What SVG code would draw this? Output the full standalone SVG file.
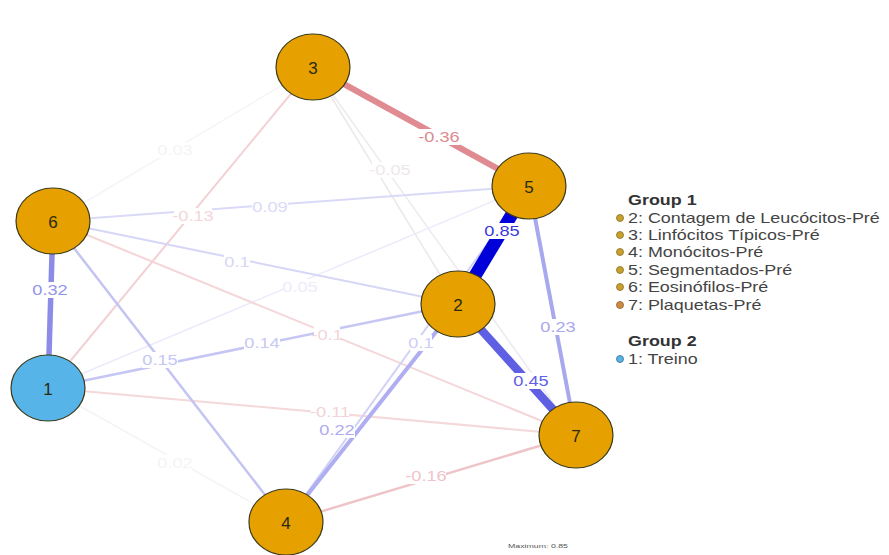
<svg xmlns="http://www.w3.org/2000/svg" width="889" height="555" viewBox="0 0 889 555">
<style>
.e{fill:none;stroke-linecap:butt}
.lb{fill:#fff}
.lt{font-family:"Liberation Sans",Arial,sans-serif;font-size:14px;text-anchor:middle;dominant-baseline:central}
.node ellipse{stroke:#3a3a1a;stroke-width:1.2}
.node text{font-family:"Liberation Sans",Arial,sans-serif;font-size:17px;text-anchor:middle;dominant-baseline:central;fill:#2a2a10}
.lg{font-family:"Liberation Sans",Arial,sans-serif;font-size:14px;fill:#444}
.lgb{font-weight:bold;fill:#333}
</style>
<rect width="889" height="555" fill="#fff"/>
<g id="connectors">
  <line class="e" x1="53" y1="221" x2="313" y2="67" stroke="#f5f5f7" stroke-width="1.5"/>
  <line class="e" x1="48" y1="388" x2="286" y2="522" stroke="#f4f4f7" stroke-width="1.5"/>
  <line class="e" x1="313" y1="67" x2="458" y2="304" stroke="#ece8ea" stroke-width="1.5"/>
  <line class="e" x1="313" y1="67" x2="576" y2="435" stroke="#ebebf0" stroke-width="1.5"/>
  <line class="e" x1="48" y1="388" x2="529" y2="186" stroke="#ebebfb" stroke-width="1.5"/>
  <line class="e" x1="48" y1="388" x2="313" y2="67" stroke="#f2d0d4" stroke-width="2"/>
  <line class="e" x1="48" y1="388" x2="576" y2="435" stroke="#f4d8da" stroke-width="2"/>
  <line class="e" x1="53" y1="221" x2="576" y2="435" stroke="#f4d6d9" stroke-width="2"/>
  <line class="e" x1="53" y1="221" x2="458" y2="304" stroke="#d6d6f7" stroke-width="2"/>
  <line class="e" x1="53" y1="221" x2="529" y2="186" stroke="#dadaf8" stroke-width="2"/>
  <line class="e" x1="286" y1="522" x2="529" y2="186" stroke="#d2d2f6" stroke-width="2"/>
  <line class="e" x1="53" y1="221" x2="286" y2="522" stroke="#c4c4f3" stroke-width="2.5"/>
  <line class="e" x1="48" y1="388" x2="458" y2="304" stroke="#c6c6f4" stroke-width="2.5"/>
  <line class="e" x1="286" y1="522" x2="576" y2="435" stroke="#eec4c8" stroke-width="2.5"/>
  <line class="e" x1="286" y1="522" x2="458" y2="304" stroke="#aeaef0" stroke-width="4"/>
  <line class="e" x1="529" y1="186" x2="576" y2="435" stroke="#a8a8ee" stroke-width="4"/>
  <line class="e" x1="53" y1="221" x2="48" y2="388" stroke="#8c8ce8" stroke-width="5.5"/>
  <line class="e" x1="313" y1="67" x2="529" y2="186" stroke="#e08a92" stroke-width="6"/>
  <line class="e" x1="458" y1="304" x2="576" y2="435" stroke="#5f5fe4" stroke-width="8.5"/>
  <line class="e" x1="529" y1="186" x2="458" y2="304" stroke="#0000d8" stroke-width="13"/>
  <g>
    <rect class="lb" x="158" y="142" width="34" height="16"/><text class="lt" transform="translate(175,150) scale(1.3,1)" fill="#f4f4f6">0.03</text>
    <rect class="lb" x="158" y="455" width="34" height="16"/><text class="lt" transform="translate(175,463) scale(1.3,1)" fill="#f4f4f6">0.02</text>
    <rect class="lb" x="372" y="162" width="36" height="16"/><text class="lt" transform="translate(390,170) scale(1.3,1)" fill="#eee8ea">-0.05</text>
    <rect class="lb" x="284" y="279" width="32" height="16"/><text class="lt" transform="translate(300,287) scale(1.3,1)" fill="#ececfb">0.05</text>
    <rect class="lb" x="174" y="208" width="38" height="16"/><text class="lt" transform="translate(193,216) scale(1.3,1)" fill="#f3d6d9">-0.13</text>
    <rect class="lb" x="252" y="199" width="36" height="16"/><text class="lt" transform="translate(270,207) scale(1.3,1)" fill="#dadaf8">0.09</text>
    <rect class="lb" x="224" y="254" width="26" height="16"/><text class="lt" transform="translate(237,262) scale(1.3,1)" fill="#d6d6f7">0.1</text>
    <rect class="lb" x="314" y="327" width="26" height="16"/><text class="lt" transform="translate(327,335) scale(1.3,1)" fill="#f3d6d9">-0.1</text>
    <rect class="lb" x="244" y="335" width="36" height="16"/><text class="lt" transform="translate(262,343) scale(1.3,1)" fill="#c8c8f4">0.14</text>
    <rect class="lb" x="142" y="352" width="36" height="16"/><text class="lt" transform="translate(160,360) scale(1.3,1)" fill="#c6c6f4">0.15</text>
    <rect class="lb" x="410" y="335" width="22" height="16"/><text class="lt" transform="translate(421,343) scale(1.3,1)" fill="#cfcff5">0.1</text>
    <rect class="lb" x="311" y="404" width="38" height="16"/><text class="lt" transform="translate(330,412) scale(1.3,1)" fill="#f2d4d7">-0.11</text>
    <rect class="lb" x="319" y="422" width="36" height="16"/><text class="lt" transform="translate(337,430) scale(1.3,1)" fill="#acacef">0.22</text>
    <rect class="lb" x="406" y="468" width="40" height="16"/><text class="lt" transform="translate(426,476) scale(1.3,1)" fill="#eec4c8">-0.16</text>
    <rect class="lb" x="540" y="319" width="36" height="16"/><text class="lt" transform="translate(558,327) scale(1.3,1)" fill="#a8a8ee">0.23</text>
    <rect class="lb" x="32" y="282" width="36" height="16"/><text class="lt" transform="translate(50,290) scale(1.3,1)" fill="#9494ea">0.32</text>
    <rect class="lb" x="418" y="129" width="42" height="16"/><text class="lt" transform="translate(439,137) scale(1.3,1)" fill="#dc8a90">-0.36</text>
    <rect class="lb" x="513" y="373" width="36" height="16"/><text class="lt" transform="translate(531,381) scale(1.3,1)" fill="#5f5fe4">0.45</text>
    <rect class="lb" x="484" y="223" width="36" height="16"/><text class="lt" transform="translate(502,231) scale(1.3,1)" fill="#3a3ad8">0.85</text>
  </g>
</g>
<g id="node3" class="node"><ellipse cx="313" cy="67" rx="37" ry="33" fill="#e6a000"/><text x="313" y="68">3</text></g>
<g id="node5" class="node"><ellipse cx="529" cy="186" rx="37" ry="33" fill="#e6a000"/><text x="529" y="187">5</text></g>
<g id="node6" class="node"><ellipse cx="53" cy="221" rx="37" ry="33" fill="#e6a000"/><text x="53" y="222">6</text></g>
<g id="node2" class="node"><ellipse cx="458" cy="304" rx="37" ry="33" fill="#e6a000"/><text x="458" y="305">2</text></g>
<g id="node1" class="node"><ellipse cx="48" cy="388" rx="37" ry="33" fill="#56b4e9"/><text x="48" y="389">1</text></g>
<g id="node7" class="node"><ellipse cx="576" cy="435" rx="37" ry="33" fill="#e6a000"/><text x="576" y="436">7</text></g>
<g id="node4" class="node"><ellipse cx="286" cy="522" rx="37" ry="33" fill="#e6a000"/><text x="286" y="523">4</text></g>
<g id="legend">
  <text class="lg lgb" transform="translate(628,205) scale(1.28,1)">Group 1</text>
  <circle cx="620" cy="218" r="3.5" fill="#c9a028" stroke="#8a7030" stroke-width="0.8"/>
  <text class="lg" transform="translate(628,223) scale(1.28,1)">2: Contagem de Leucócitos-Pré</text>
  <circle cx="620" cy="235" r="3.5" fill="#c9a028" stroke="#8a7030" stroke-width="0.8"/>
  <text class="lg" transform="translate(628,240) scale(1.28,1)">3: Linfócitos Típicos-Pré</text>
  <circle cx="620" cy="252" r="3.5" fill="#c9a028" stroke="#8a7030" stroke-width="0.8"/>
  <text class="lg" transform="translate(628,257) scale(1.28,1)">4: Monócitos-Pré</text>
  <circle cx="620" cy="270" r="3.5" fill="#c9a028" stroke="#8a7030" stroke-width="0.8"/>
  <text class="lg" transform="translate(628,275) scale(1.28,1)">5: Segmentados-Pré</text>
  <circle cx="620" cy="287" r="3.5" fill="#c9a028" stroke="#8a7030" stroke-width="0.8"/>
  <text class="lg" transform="translate(628,292) scale(1.28,1)">6: Eosinófilos-Pré</text>
  <circle cx="620" cy="305" r="3.5" fill="#d08a40" stroke="#8a6030" stroke-width="0.8"/>
  <text class="lg" transform="translate(628,310) scale(1.28,1)">7: Plaquetas-Pré</text>
  <text class="lg lgb" transform="translate(628,346) scale(1.28,1)">Group 2</text>
  <circle cx="620" cy="359" r="3.5" fill="#56b4e9" stroke="#3a7090" stroke-width="0.8"/>
  <text class="lg" transform="translate(628,364) scale(1.28,1)">1: Treino</text>
</g>
<text x="508" y="548" font-family="'Liberation Sans',Arial,sans-serif" font-size="6" fill="#555" textLength="60" lengthAdjust="spacingAndGlyphs">Maximum: 0.85</text>
</svg>
